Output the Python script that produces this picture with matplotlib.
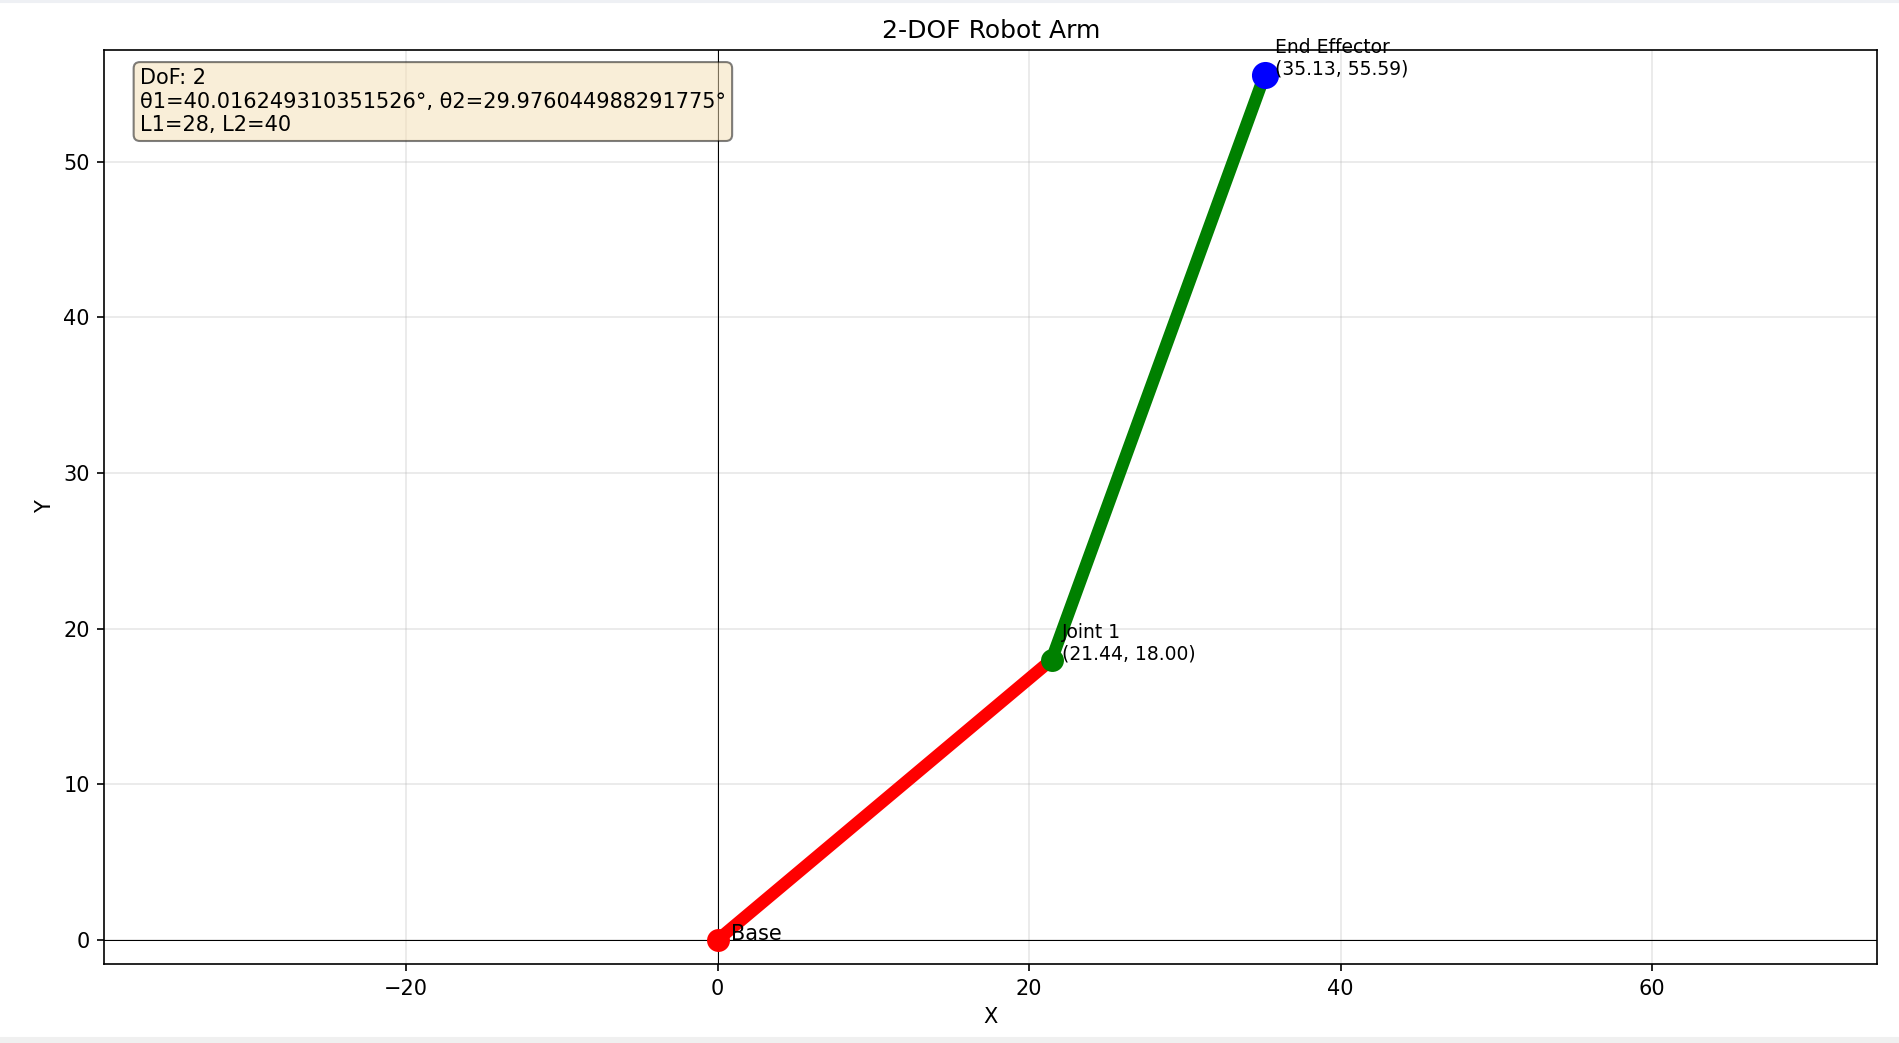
import matplotlib
matplotlib.use("Agg")
import matplotlib.pyplot as plt
from matplotlib.patches import Rectangle

# arm parameters / joint positions
L1 = 28
L2 = 40
theta1 = 40.016249310351526
theta2 = 29.976044988291775
base = (0.0, 0.0)
joint1 = (21.44, 18.00)
end_eff = (35.13, 55.59)

fig = plt.figure(figsize=(1899 / 150, 1043 / 150), dpi=150)
ax = fig.add_axes([0.055, 0.0757, 0.9334, 0.8763])

# screenshot strips at top and bottom
fig.patches.append(Rectangle((0, 1 - 2 / 1043), 1, 2 / 1043, transform=fig.transFigure,
                             color="#eef0f4", zorder=0))
fig.patches.append(Rectangle((0, 0), 1, 5 / 1043, transform=fig.transFigure,
                             color="#f0f0f0", zorder=0))

ax.axhline(y=0, color='k', linewidth=0.5)
ax.axvline(x=0, color='k', linewidth=0.5)

# links
ax.plot([base[0], joint1[0]], [base[1], joint1[1]], 'r-', linewidth=6)
ax.plot([joint1[0], end_eff[0]], [joint1[1], end_eff[1]], 'g-', linewidth=6)

# joints
ax.plot(base[0], base[1], 'ro', markersize=10)
ax.plot(joint1[0], joint1[1], 'go', markersize=10)
ax.plot(end_eff[0], end_eff[1], 'bo', markersize=12)

ax.annotate('Base', base, xytext=(6.5, 0), textcoords='offset points', fontsize=10)
ax.annotate(f'Joint 1\n({joint1[0]:.2f}, {joint1[1]:.2f})', joint1, xytext=(5, 0),
            textcoords='offset points', fontsize=9)
ax.annotate(f'End Effector\n({end_eff[0]:.2f}, {end_eff[1]:.2f})', end_eff, xytext=(5, 0),
            textcoords='offset points', fontsize=9)

info = f'DoF: 2\nθ1={theta1}°, θ2={theta2}°\nL1={L1}, L2={L2}'
ax.text(0.02, 0.98, info, transform=ax.transAxes, fontsize=10, va='top',
        bbox=dict(boxstyle='round', facecolor='wheat', alpha=0.5))

ax.set_xlim(-39.35, 74.42)
ax.set_ylim(-1.54, 57.16)
ax.set_xticks([-20, 0, 20, 40, 60])
ax.set_yticks([0, 10, 20, 30, 40, 50])
ax.grid(True, alpha=0.3)
ax.set_xlabel('X')
ax.set_ylabel('Y')
ax.set_title('2-DOF Robot Arm')

fig.savefig('out.png', dpi=150)
